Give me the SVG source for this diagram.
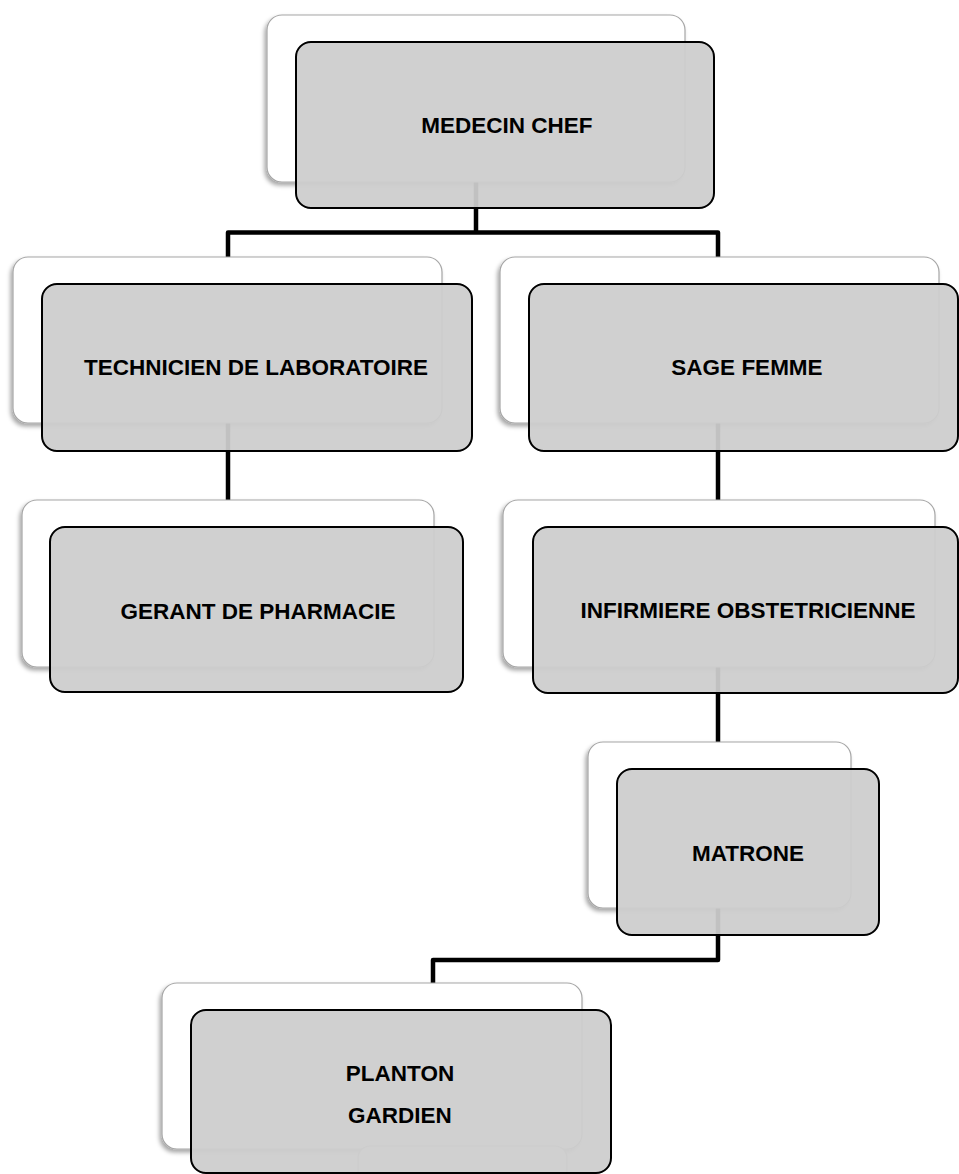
<svg xmlns="http://www.w3.org/2000/svg" width="959" height="1174" viewBox="0 0 959 1174">
<defs>
<filter id="sh" x="-10%" y="-10%" width="120%" height="130%">
<feDropShadow dx="-2" dy="3" stdDeviation="2" flood-color="#000" flood-opacity="0.35"/>
</filter>
<style>
.back{fill:#fff;stroke:#a6a6a6;stroke-width:1.2;filter:url(#sh)}
.front{fill:#cdcdcd;fill-opacity:0.94;stroke:#000;stroke-width:2}
.extra{fill:#f2f2f2;stroke:#b4b4b4;stroke-width:1.2}
.lbl{font-family:"Liberation Sans",Arial,sans-serif;font-weight:bold;font-size:22.5px;fill:#000;text-anchor:middle}
.conn{fill:none;stroke:#000;stroke-width:4.5;stroke-linejoin:round}
</style>
</defs>
<rect width="959" height="1174" fill="#fff"/>
<g id="connectors">
<path class="conn" d="M476,182 V232.5 M228,257 V232.5 H718 V257"/>
<path class="conn" d="M228,423 V500"/>
<path class="conn" d="M718,423 V500"/>
<path class="conn" d="M718,667 V742"/>
<path class="conn" d="M718,908 V960 H433 V983"/>
</g>
<g id="medecin-chef">
<rect class="back" x="267" y="15" width="418" height="167" rx="15"/>
<rect class="front" x="296" y="42" width="418" height="166" rx="15"/>
<text class="lbl" x="507" y="133">MEDECIN CHEF</text>
</g>
<g id="technicien">
<rect class="back" x="13" y="257" width="429" height="166" rx="15"/>
<rect class="front" x="42" y="284" width="430" height="167" rx="15"/>
<text class="lbl" x="256" y="375">TECHNICIEN DE LABORATOIRE</text>
</g>
<g id="sage-femme">
<rect class="back" x="500" y="257" width="439" height="166" rx="15"/>
<rect class="front" x="529" y="284" width="429" height="167" rx="15"/>
<text class="lbl" x="747" y="375">SAGE FEMME</text>
</g>
<g id="gerant">
<rect class="back" x="22" y="500" width="412" height="167" rx="15"/>
<rect class="front" x="50" y="527" width="413" height="165" rx="15"/>
<text class="lbl" x="258" y="619">GERANT DE PHARMACIE</text>
</g>
<g id="infirmiere">
<rect class="back" x="503" y="500" width="432" height="167" rx="15"/>
<rect class="front" x="533" y="527" width="425" height="166" rx="15"/>
<text class="lbl" x="748" y="618">INFIRMIERE OBSTETRICIENNE</text>
</g>
<g id="matrone">
<rect class="back" x="588" y="742" width="263" height="166" rx="15"/>
<rect class="front" x="617" y="769" width="262" height="166" rx="15"/>
<text class="lbl" x="748" y="861">MATRONE</text>
</g>
<g id="planton">
<rect class="back" x="162" y="983" width="420" height="166" rx="15"/>
<rect class="extra" x="358" y="1146" width="209" height="60" rx="12"/>
<rect class="front" x="191" y="1010" width="420" height="163" rx="15"/>
<text class="lbl" x="400" y="1081">PLANTON</text>
<text class="lbl" x="400" y="1123">GARDIEN</text>
</g>
</svg>
